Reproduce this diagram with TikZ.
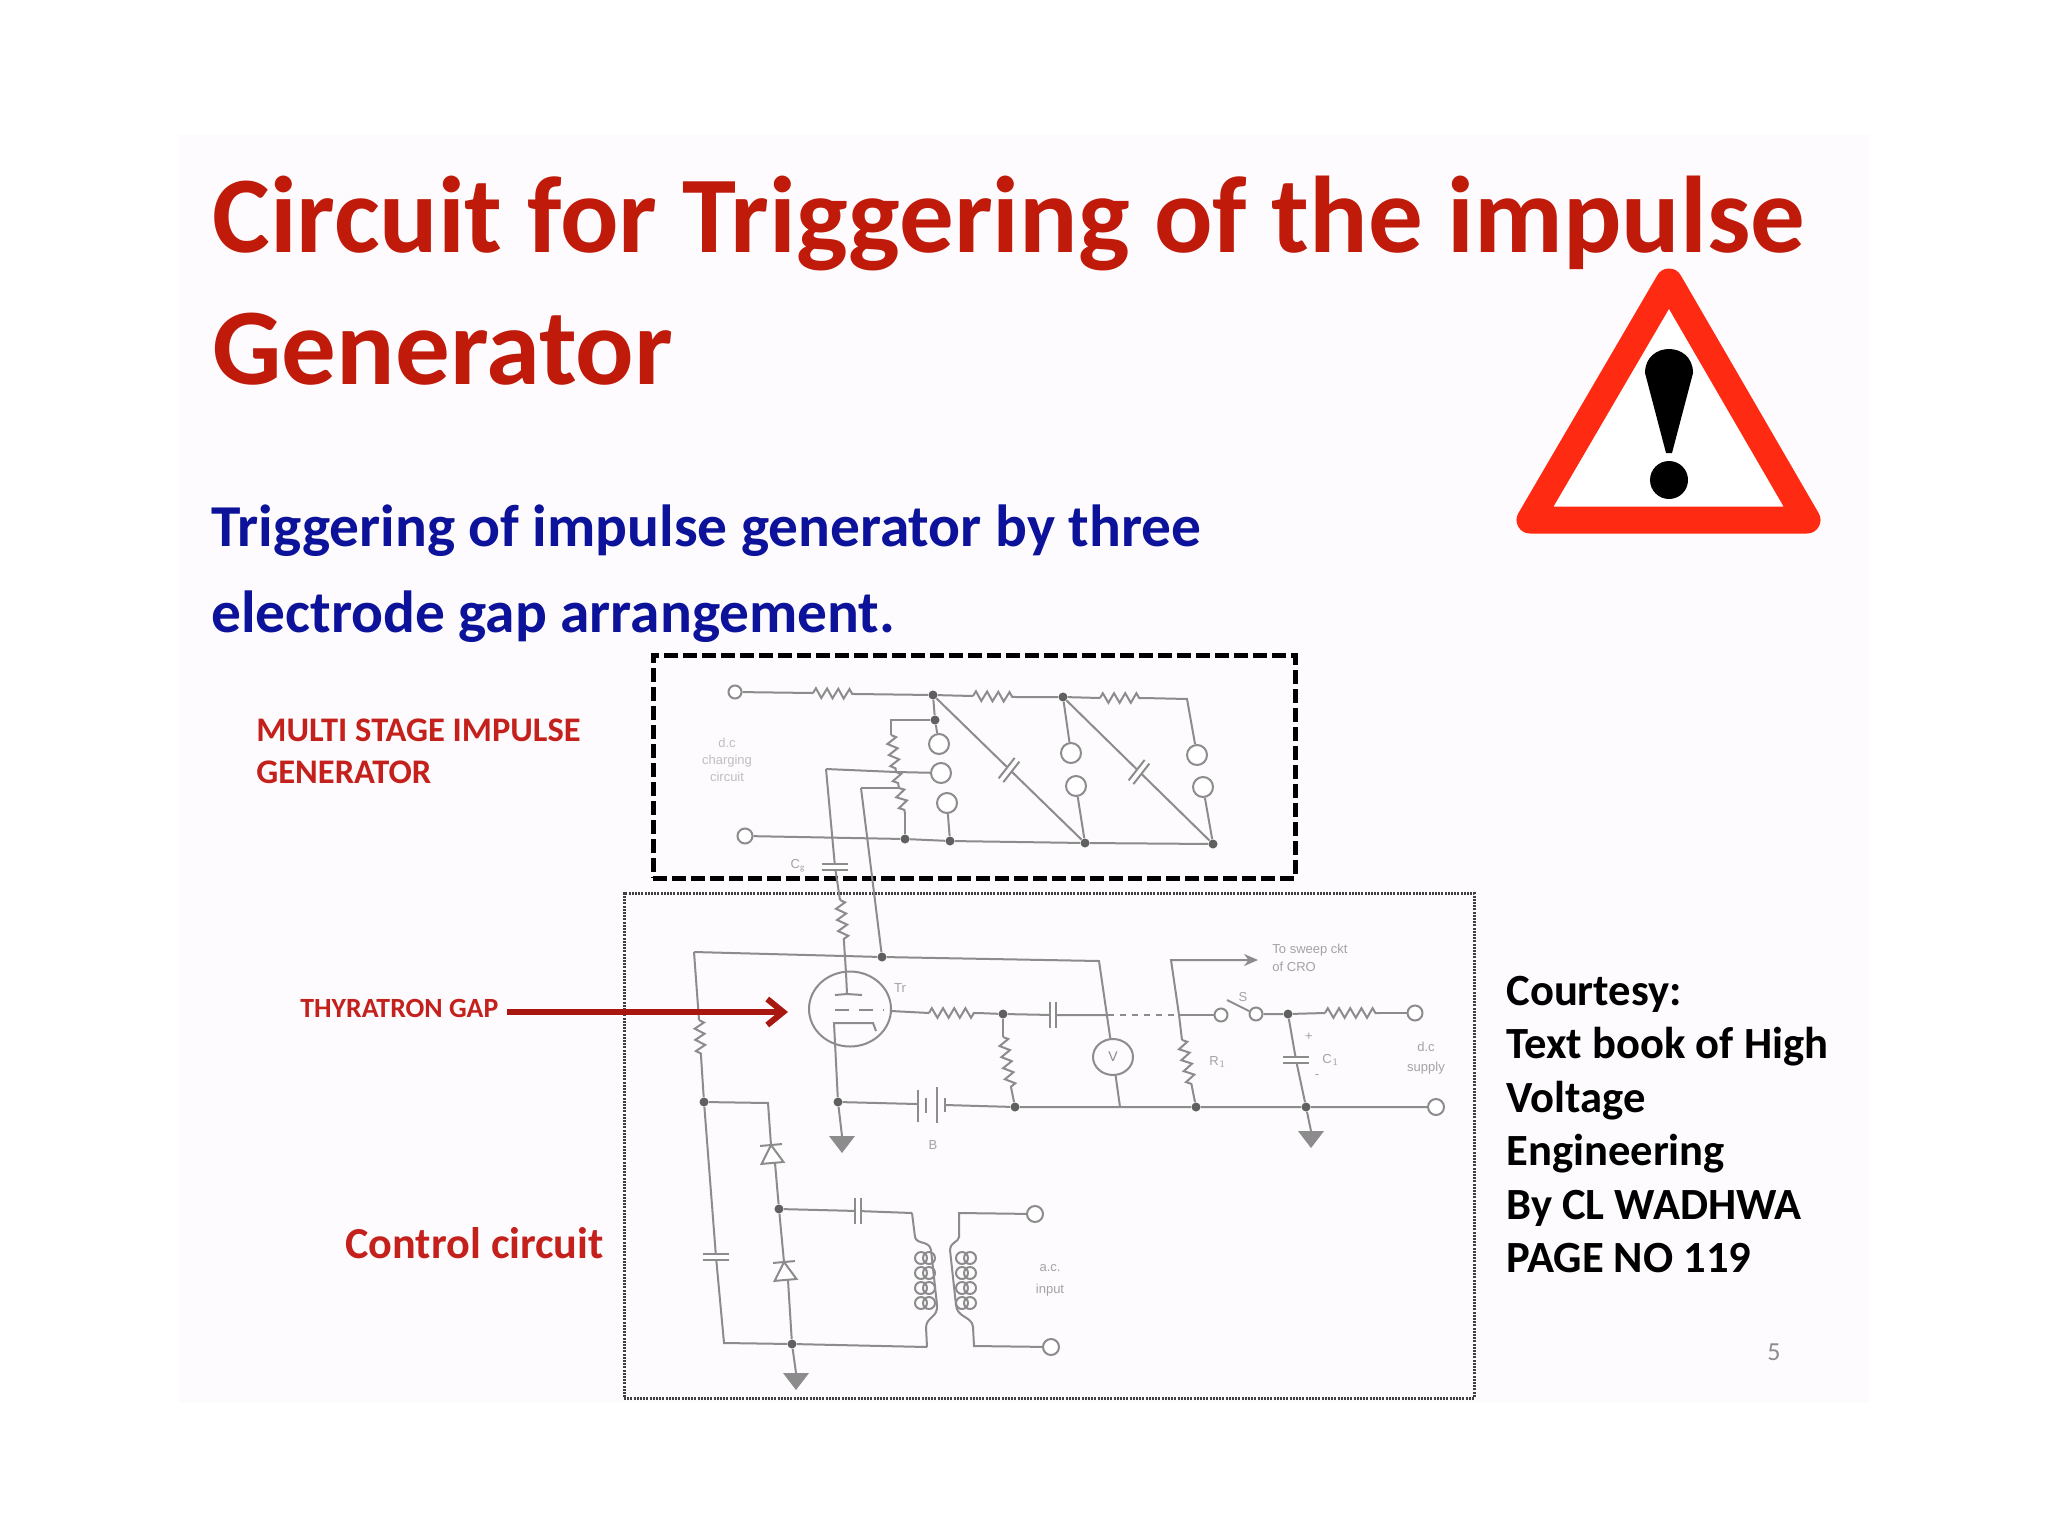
\documentclass[tikz,border=0pt]{standalone}
\usepackage{fontspec}
\setmainfont{Carlito}
\newfontfamily\labelfont{Liberation Sans}
\usepackage{xcolor}
\usepackage{tikz}
\usetikzlibrary{arrows.meta,shapes.geometric,decorations.pathmorphing}
\definecolor{slideBack}{HTML}{FDFBFD}
\definecolor{titleRed}{HTML}{BF1A0A}
\definecolor{noteRed}{HTML}{C4201C}
\definecolor{arrowRed}{HTML}{A81810}
\definecolor{subBlue}{HTML}{0C1299}
\definecolor{wireGrey}{HTML}{8C8C8C}
\definecolor{dotGrey}{HTML}{606060}
\definecolor{signRed}{HTML}{FF2A12}
\tikzset {
	wire/.style={draw=wireGrey, line width=1pt},
	resistor/.style={wire, decorate, decoration={zigzag, segment length=5.6pt, amplitude=2.4pt}},
	dot/.style={circle, fill=dotGrey, inner sep=0pt, minimum size=4.5pt},
	term/.style={circle, draw=wireGrey, line width=1pt, fill=white, inner sep=0pt, minimum size=10pt},
	smallTerm/.style={term, minimum size=6.5pt},
	titleText/.style={anchor=base west, inner sep=0pt, text=titleRed, font=\fontsize{54.5}{54.5}\selectfont\bfseries},
	subText/.style={anchor=base west, inner sep=0pt, text=subBlue, font=\fontsize{29.7}{29.7}\selectfont\bfseries},
	noteText/.style={anchor=base west, inner sep=0pt, text=noteRed, font=\fontsize{17.25}{17.25}\selectfont\bfseries},
	courtesyText/.style={anchor=base west, inner sep=0pt, text=black, font=\fontsize{22.3}{22.3}\selectfont\bfseries},
	partText/.style={inner sep=0pt, text=wireGrey!80, font=\fontsize{6.5}{6.5}\selectfont\labelfont},
	capPlates/.pic={
		\fill[white] (-3,-13) rectangle (3,13);
		\draw[wire] (-3,-13) -- (-3,13);
		\draw[wire] (3,-13) -- (3,13);
	},
	groundTip/.pic={\fill[wireGrey] (-13,0) -- (13,0) -- (0,17) -- cycle;},
	diodeUp/.pic={
		\fill[white] (-11,18) -- (11,18) -- (0,0) -- cycle;
		\draw[wire] (-11,18) -- (11,18) -- (0,0) -- cycle;
		\draw[wire] (-11,0) -- (11,0);
	}
}
\begin{document}
\begin{tikzpicture}[x=.5pt, y=-.5pt]
	\useasboundingbox (0,0) rectangle (2048,1536);
	\fill[white] (0,0) rectangle (2048,1536);
	\fill[slideBack] (178,135) rectangle (1870,1403);

	% heading
	\node[titleText] (titleOne) at (212,252) {Circuit for Triggering of the impulse};
	\node[titleText] (titleTwo) at (212,384) {Generator};
	\node[subText] (subOne) at (211,546) {Triggering of impulse generator by three};
	\node[subText] (subTwo) at (211,632) {electrode gap arrangement.};

	% warning sign
	\draw[signRed, fill=white, line width=13.5pt, line join=round]
		(1669,282) -- (1807,520) -- (1530,520) -- cycle;
	\fill[black] (1645,373) .. controls (1645,341) and (1693,341) .. (1693,373)
		-- (1672,453) -- (1666,453) -- cycle;
	\fill[black] (1669,480) circle (19);

	% frames
	\node[draw, dashed, line width=2.5pt, dash pattern=on 7pt off 2.5pt, minimum width=321pt, minimum height=111.5pt, inner sep=0pt] (stageBox) at (974,766.5) {};
	\node[draw=black!75, line width=1.5pt, dash pattern=on 1pt off .6pt, minimum width=425pt, minimum height=252.5pt, inner sep=0pt] (controlBox) at (1049,1145.5) {};

	% generator stages
	\node[smallTerm] (chargeTop) at (735,692) {};
	\node[term, minimum size=7.5pt] (chargeBottom) at (745,836) {};
	\node[dot] (stageOne) at (933,695) {};
	\node[dot] (stageTwo) at (1063,697) {};
	\node[dot] (stageTap) at (935,720) {};
	\node[dot] (railOne) at (905,839) {};
	\node[dot] (railTwo) at (950,841) {};
	\node[dot] (railThree) at (1085,843) {};
	\node[dot] (railFour) at (1213,844) {};
	\node[term] (gapOneA) at (939,744) {};
	\node[term] (gapOneB) at (941,773) {};
	\node[term] (gapOneC) at (947,803) {};
	\node[term] (gapTwoA) at (1071,753) {};
	\node[term] (gapTwoB) at (1076,786) {};
	\node[term] (gapThreeA) at (1197,755) {};
	\node[term] (gapThreeB) at (1203,787) {};
	\coordinate (resOneA) at (813,693);
	\coordinate (resOneB) at (855,694);
	\coordinate (resTwoA) at (973,696);
	\coordinate (resTwoB) at (1016,697);
	\coordinate (resThreeA) at (1100,698);
	\coordinate (resThreeB) at (1144,698);
	\coordinate (cornerThree) at (1187,699);
	\coordinate (chainTop) at (891,720);
	\coordinate (chainA) at (891,735);
	\coordinate (chainB) at (896,772);
	\coordinate (chainC) at (899,788);
	\coordinate (chainD) at (905,813);
	\coordinate (tapOne) at (826,769);
	\coordinate (tapTwo) at (861,788);
	\coordinate (capOne) at (1009,770);
	\coordinate (capTwo) at (1139,772);
	\coordinate (capGrid) at (835,867);

	\draw[wire] (chargeTop) -- (resOneA) (resOneB) -- (stageOne) -- (resTwoA) (resTwoB) -- (stageTwo) -- (resThreeA) (resThreeB) -- (cornerThree) -- (gapThreeA);
	\draw[resistor] (resOneA) -- (resOneB);
	\draw[resistor] (resTwoA) -- (resTwoB);
	\draw[resistor] (resThreeA) -- (resThreeB);
	\draw[wire] (chargeBottom) -- (railOne) -- (railTwo) -- (railThree) -- (railFour);
	\draw[wire] (stageOne) -- (stageTap) -- (gapOneA);
	\draw[wire] (stageTap) -- (chainTop) -- (chainA);
	\draw[resistor] (chainA) -- (chainB);
	\draw[resistor] (chainB) -- (chainC);
	\draw[resistor] (chainC) -- (chainD);
	\draw[wire] (chainD) -- (railOne);
	\draw[wire] (gapOneB) -- (chainB) -- (tapOne);
	\draw[wire] (chainC) -- (tapTwo);
	\draw[wire] (gapOneC) -- (railTwo);
	\draw[wire] (stageTwo) -- (gapTwoA);
	\draw[wire] (gapTwoB) -- (railThree);
	\draw[wire] (gapThreeB) -- (railFour);
	\draw[wire] (stageOne) -- (railThree);
	\draw[wire] (stageTwo) -- (railFour);
	\path (capOne) pic[rotate=-38] {capPlates};
	\path (capTwo) pic[rotate=-38] {capPlates};

	% thyratron stage
	\node[draw=wireGrey, line width=1pt, ellipse, minimum width=41pt, minimum height=37.5pt, inner sep=0pt] (tube) at (850,1009) {};
	\node[draw=wireGrey, line width=1pt, ellipse, minimum width=20pt, minimum height=18pt, inner sep=0pt, font=\fontsize{7}{7}\selectfont\labelfont, text=wireGrey] (meter) at (1113,1057) {V};
	\node[dot] (senseDot) at (882,957) {};
	\node[dot] (leftDot) at (704,1102) {};
	\node[dot] (cathodeDot) at (838,1102) {};
	\node[dot] (gridDot) at (1003,1014) {};
	\node[dot] (chargeDot) at (1288,1014) {};
	\node[dot] (lowOne) at (1015,1107) {};
	\node[dot] (lowTwo) at (1196,1107) {};
	\node[dot] (lowThree) at (1306,1107) {};
	\node[smallTerm] (switchA) at (1221,1015) {};
	\node[smallTerm] (switchB) at (1256,1014) {};
	\node[term, minimum size=7.5pt] (supplyPlus) at (1415,1013) {};
	\node[term, minimum size=8pt] (supplyMinus) at (1436,1107) {};
	\coordinate (resGridA) at (840,900);
	\coordinate (resGridB) at (844,942);
	\coordinate (anode) at (846,973);
	\coordinate (plate) at (847,994);
	\coordinate (topLeft) at (694,952);
	\coordinate (topRight) at (1099,961);
	\coordinate (meterFoot) at (1120,1107);
	\coordinate (resLeftA) at (699,1020);
	\coordinate (resLeftB) at (701,1056);
	\coordinate (tubeRight) at (891,1011);
	\coordinate (resSigA) at (929,1013);
	\coordinate (resSigB) at (978,1013);
	\coordinate (capSig) at (1053,1015);
	\coordinate (crossMeter) at (1108,1015);
	\coordinate (crossSweep) at (1179,1015);
	\coordinate (resDownA) at (1003,1037);
	\coordinate (resDownB) at (1011,1087);
	\coordinate (sweepCorner) at (1171,960);
	\coordinate (sweepEnd) at (1258,960);
	\coordinate (resRA) at (1182,1040);
	\coordinate (resRB) at (1192,1087);
	\coordinate (capCharge) at (1296,1060);
	\coordinate (resSupplyA) at (1325,1013);
	\coordinate (resSupplyB) at (1380,1013);
	\coordinate (switchArm) at (1227,1000);
	\coordinate (switchEnd) at (1249,1011);
	\coordinate (battA) at (917,1104);
	\coordinate (battB) at (945,1105);
	\coordinate (cathodeA) at (834,1023);
	\coordinate (cathodeB) at (873,1023);
	\coordinate (cathodeC) at (876,1031);
	\coordinate (groundOne) at (842,1136);
	\coordinate (groundTwo) at (1311,1131);

	\draw[wire] (tapOne) -- (capGrid) -- (resGridA);
	\path (capGrid) pic[rotate=90] {capPlates};
	\draw[resistor] (resGridA) -- (resGridB);
	\draw[wire] (resGridB) -- (anode) -- (plate);
	\draw[wire] (835,995) -- (plate) -- (862,995);
	\draw[wire] (tapTwo) -- (senseDot);
	\draw[wire, dash pattern=on 7pt off 5pt] (835,1010) -- (884,1010);
	\draw[wire] (topLeft) -- (senseDot) -- (topRight) -- (meter);
	\draw[wire] (meter) -- (meterFoot);
	\draw[wire] (topLeft) -- (resLeftA);
	\draw[resistor] (resLeftA) -- (resLeftB);
	\draw[wire] (resLeftB) -- (leftDot);
	\draw[wire] (cathodeC) -- (cathodeB) -- (cathodeA) -- (cathodeDot) -- (groundOne);
	\path (groundOne) pic {groundTip};
	\draw[wire] (cathodeDot) -- (battA);
	\draw[wire] (battB) -- (lowOne) -- (meterFoot) -- (lowTwo) -- (lowThree) -- (supplyMinus);
	\draw[wire] (917.5,1090) -- (917.5,1122);
	\draw[wire] (926,1098) -- (926,1113);
	\draw[wire] (937,1087) -- (937,1123);
	\draw[wire] (945,1098) -- (945,1112);
	\draw[wire] (tubeRight) -- (resSigA);
	\draw[resistor] (resSigA) -- (resSigB);
	\draw[wire] (resSigB) -- (gridDot) -- (capSig) -- (crossMeter);
	\path (capSig) pic {capPlates};
	\draw[wire, dashed] (crossMeter) -- (crossSweep);
	\draw[wire] (crossSweep) -- (switchA);
	\draw[wire] (switchArm) -- (switchEnd);
	\draw[wire] (switchB) -- (chargeDot) -- (resSupplyA);
	\draw[resistor] (resSupplyA) -- (resSupplyB);
	\draw[wire] (resSupplyB) -- (supplyPlus);
	\draw[wire] (gridDot) -- (resDownA);
	\draw[resistor] (resDownA) -- (resDownB);
	\draw[wire] (resDownB) -- (lowOne);
	\draw[wire, -{Stealth[length=7pt,width=6pt]}] (crossSweep) -- (sweepCorner) -- (sweepEnd);
	\draw[wire] (crossSweep) -- (resRA);
	\draw[resistor] (resRA) -- (resRB);
	\draw[wire] (resRB) -- (lowTwo);
	\draw[wire] (chargeDot) -- (capCharge) -- (lowThree) -- (groundTwo);
	\path (capCharge) pic[rotate=90] {capPlates};
	\path (groundTwo) pic {groundTip};

	% control circuit
	\node[dot] (diodeDot) at (779,1209) {};
	\node[dot] (baseDot) at (792,1344) {};
	\node[smallTerm, minimum size=8pt] (acTop) at (1035,1214) {};
	\node[smallTerm, minimum size=8pt] (acBottom) at (1051,1347) {};
	\coordinate (capStore) at (716,1257);
	\coordinate (cornerBase) at (724,1343);
	\coordinate (diodeCorner) at (768,1103);
	\coordinate (diodeOneTop) at (771,1145);
	\coordinate (diodeOneEnd) at (775,1163);
	\coordinate (diodeTwoTop) at (784,1262);
	\coordinate (diodeTwoEnd) at (788,1280);
	\coordinate (groundThree) at (796,1373);
	\coordinate (capFeed) at (858,1211);
	\coordinate (priTop) at (912,1213);
	\coordinate (priBase) at (927,1347);
	\coordinate (secTop) at (959,1213);
	\coordinate (secBase) at (974,1346);

	\draw[wire] (leftDot) -- (capStore) -- (cornerBase) -- (baseDot) -- (priBase);
	\path (capStore) pic[rotate=90] {capPlates};
	\draw[wire] (leftDot) -- (diodeCorner) -- (diodeOneTop);
	\draw[wire] (diodeOneEnd) -- (diodeDot) -- (diodeTwoTop);
	\draw[wire] (diodeTwoEnd) -- (baseDot) -- (groundThree);
	\path (diodeOneTop) pic[rotate=5] {diodeUp};
	\path (diodeTwoTop) pic[rotate=5] {diodeUp};
	\path (groundThree) pic {groundTip};
	\draw[wire] (diodeDot) -- (capFeed) -- (priTop);
	\path (capFeed) pic {capPlates};
	\draw[wire] (priTop) -- (915,1237) .. controls (917,1245) and (929,1240) .. (931,1250)
		-- (937,1305) .. controls (938,1318) and (927,1316) .. (926,1327) -- (priBase);
	\draw[wire] (acTop) -- (secTop) -- (959,1237) .. controls (958,1243) and (951,1241) .. (950,1250)
		-- (956,1305) .. controls (957,1318) and (972,1316) .. (973,1327) -- (secBase) -- (acBottom);
	\foreach \yy in {1258,1273,1288,1303} {
		\draw[wire] (921,\yy) circle (6);
		\draw[wire] (929,\yy) circle (6);
		\draw[wire] (962,\yy) circle (6);
		\draw[wire] (970,\yy) circle (6);
	}

	% small labels of the scanned circuit
	\node[partText, text=black!25, align=center, font=\fontsize{6.5}{8.5}\selectfont\labelfont] (chargeLabel) at (727,760) {d.c\\charging\\circuit};
	\node[partText] (capGridLabel) at (798,866) {C$_{\mathrm{g}}$};
	\node[partText] (tubeLabel) at (900,988) {Tr};
	\node[partText, align=left, anchor=north west, font=\fontsize{6.5}{9}\selectfont\labelfont] (sweepLabel) at (1272,944) {To sweep ckt\\ of CRO};
	\node[partText] (switchLabel) at (1243,997) {S};
	\node[partText] (resRLabel) at (1218,1062) {R$_1$};
	\node[partText] (capLabel) at (1331,1060) {C$_1$};
	\node[partText] (plusLabel) at (1309,1037) {+};
	\node[partText] (minusLabel) at (1317,1077) {-};
	\node[partText, align=center, font=\fontsize{6.5}{10}\selectfont\labelfont] (supplyLabel) at (1426,1058) {d.c\\supply};
	\node[partText] (battLabel) at (933,1145) {B};
	\node[partText, align=center, font=\fontsize{6.5}{11}\selectfont\labelfont] (acLabel) at (1050,1280) {a.c.\\input};

	% notes
	\node[noteText] (multiOne) at (256,741) {MULTI STAGE IMPULSE};
	\node[noteText] (multiTwo) at (256,783) {GENERATOR};
	\node[noteText, font=\fontsize{13.9}{13.9}\selectfont\bfseries] (gapNote) at (300,1017) {THYRATRON GAP};
	\node[noteText, font=\fontsize{22.1}{22.1}\selectfont\bfseries] (controlNote) at (345,1258) {Control circuit};
	\coordinate (gapArrowStart) at (507,1012);
	\coordinate (gapArrowEnd) at (788,1012);
	\draw[arrowRed, line width=3pt, -{Straight Barb[length=8pt,width=13pt]}] (gapArrowStart) -- (gapArrowEnd);

	\node[courtesyText] (courtesyOne) at (1506,1005) {Courtesy:};
	\node[courtesyText] (courtesyTwo) at (1506,1058) {Text book of High};
	\node[courtesyText] (courtesyThree) at (1506,1112) {Voltage};
	\node[courtesyText] (courtesyFour) at (1506,1165) {Engineering};
	\node[courtesyText] (courtesyFive) at (1506,1219) {By CL WADHWA};
	\node[courtesyText] (courtesySix) at (1506,1272) {PAGE NO 119};
	\node[inner sep=0pt, text=black!45, font=\fontsize{13}{13}\selectfont] (pageNo) at (1774,1352) {5};
\end{tikzpicture}
\end{document}
